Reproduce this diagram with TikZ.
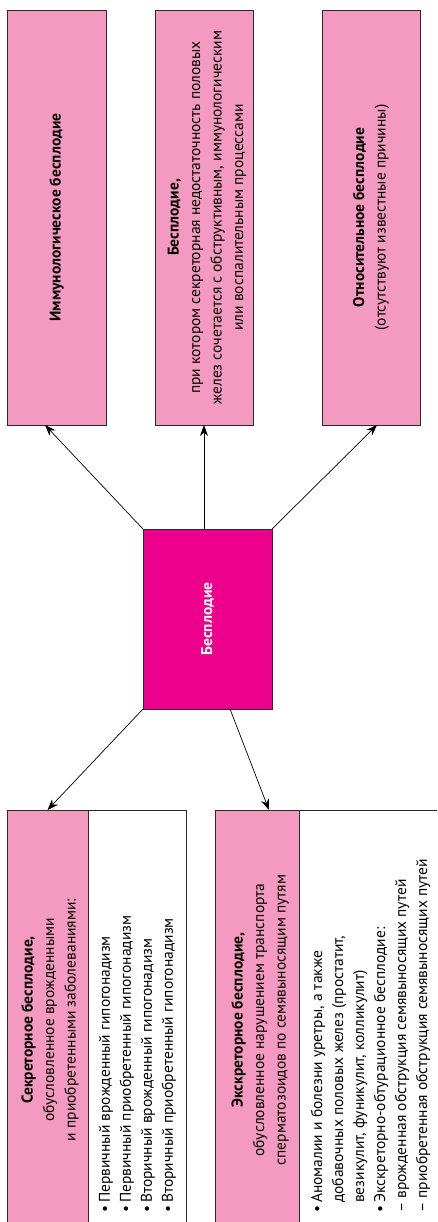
\documentclass[tikz,border=0pt]{standalone}
\usepackage{fontspec}
\setmainfont{PT Sans}
\usetikzlibrary{arrows.meta,calc}
\definecolor{lpink}{HTML}{F49AC1}
\definecolor{mag}{HTML}{EC008C}
\definecolor{edge}{HTML}{2B2A29}
\newcommand\bl{\makebox[0.65em][l]{•}}
\newcommand\ind{\hspace*{0.65em}}
\begin{document}
\begin{tikzpicture}[x=1pt,y=-1pt,
  box/.style={draw=edge, line width=0.9pt, inner sep=0pt, outer sep=0pt, anchor=center},
  pinkbox/.style={box, fill=lpink},
  whitebox/.style={box, fill=white},
  txt/.style={rotate=90, font=\fontsize{15.5}{21.5}\selectfont, align=center, inner sep=0pt},
  listtxt/.style={rotate=90, font=\fontsize{15.5}{21}\selectfont, align=left, anchor=west, inner sep=0pt},
  arr/.style={-{Stealth[length=11pt,width=8pt]}, line width=0.7pt, draw=black}]
\useasboundingbox (0,0) rectangle (437,1222);
\clip (0,0) rectangle (437,1222);
% top row
\node[pinkbox, minimum width=99pt, minimum height=415pt] (A) at (56.5,217.5) {};
\node[pinkbox, minimum width=98pt, minimum height=415pt] (B) at (204,217.5) {};
\node[pinkbox, minimum width=98pt, minimum height=415pt] (C) at (371,217.5) {};
% centre
\node[box, fill=mag, minimum width=129pt, minimum height=180pt] (M) at (207.5,619) {};
% bottom row
\node[pinkbox, minimum width=81pt, minimum height=422pt] (Dp) at (47.5,1021) {};
\node[whitebox, minimum width=98pt, minimum height=422pt] (Dw) at (137,1021) {};
\node[pinkbox, minimum width=84pt, minimum height=422pt] (Ep) at (257,1021) {};
\node[whitebox, minimum width=146pt, minimum height=422pt] (Ew) at (372,1021) {};
% texts
\node[txt] (At) at (A.center) {\textbf{Иммунологическое бесплодие}};
\node[txt] (Bt) at ([xshift=3pt]B.center) {\textbf{Бесплодие,}\\при котором секреторная недостаточность половых\\желез сочетается с обструктивным, иммунологическим\\или воспалительным процессами};
\node[txt] (Ct) at (C.center) {\textbf{Относительное бесплодие}\\(отсутствуют известные причины)};
\node[txt, text=white] (Mt) at (M.center) {\textbf{Бесплодие}};
\node[txt] (Dt) at (50,1020) {\textbf{Секреторное бесплодие,}\\обусловленное врожденными\\и приобретенными заболеваниями:};
\node[txt] (Et) at (260,1020) {\textbf{Экскреторное бесплодие,}\\обусловленное нарушением транспорта\\сперматозоидов по семявыносящим путям};
\node[listtxt] (Dl) at (137.5,1213) {\bl Первичный врожденный гипогонадизм\\\bl Первичный приобретенный гипогонадизм\\\bl Вторичный врожденный гипогонадизм\\\bl Вторичный приобретенный гипогонадизм};
\node[listtxt] (El) at (370.5,1213) {\bl Аномалии и болезни уретры, а также\\\ind добавочных половых желез (простатит,\\\ind везикулит, фуникулит, колликулит)\\\bl Экскреторно-обтурационное бесплодие:\\– врожденная обструкция семявыносящих путей\\– приобретенная обструкция семявыносящих путей};
% connectors
\draw[arr] (M.north west) -- ([xshift=-11.5pt]A.south);
\draw[arr] ([xshift=-3.5pt]M.north) -- (B.south);
\draw[arr] (M.north east) -- ([xshift=6pt]C.south);
\draw[arr] (M.south west) -- (Dp.north);
\draw[arr] ([xshift=22.5pt]M.south) -- ([xshift=12pt]Ep.north);
\end{tikzpicture}
\end{document}
